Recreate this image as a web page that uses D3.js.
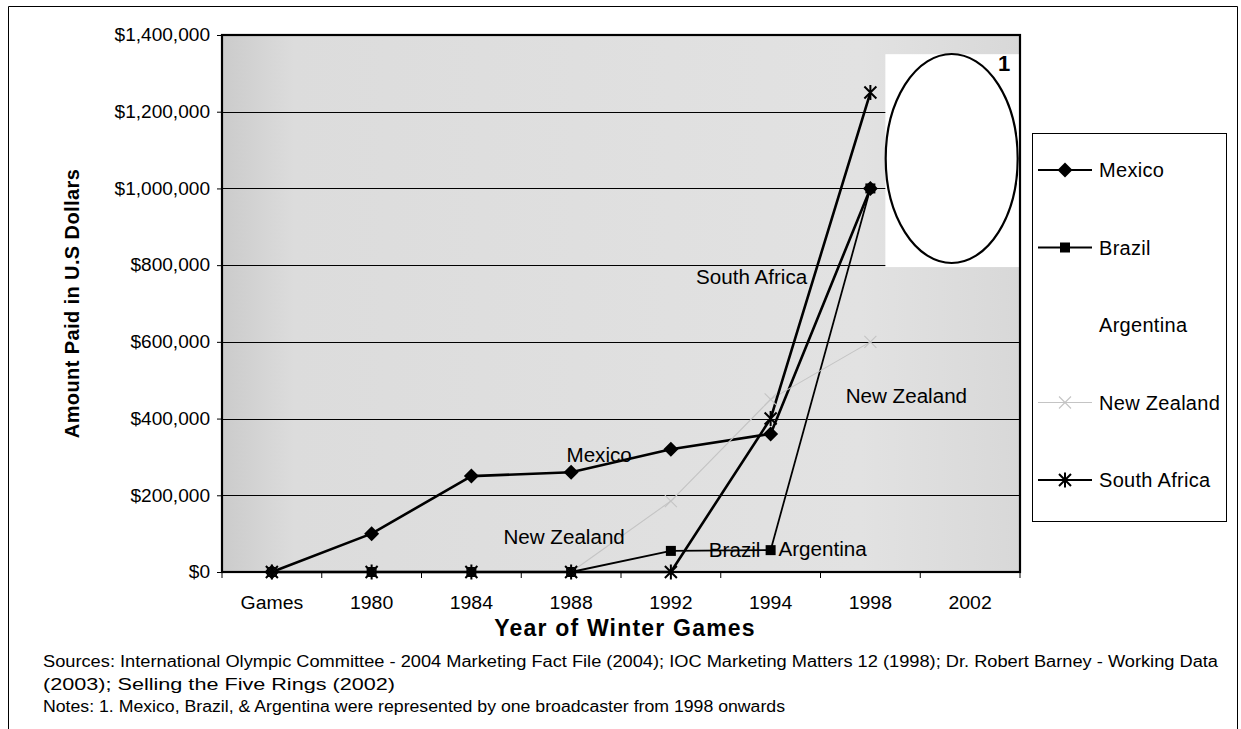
<!DOCTYPE html>
<html>
<head>
<meta charset="utf-8">
<script src="https://cdn.jsdelivr.net/npm/d3@7/dist/d3.min.js"></script>
<style>
  html, body { margin: 0; padding: 0; background: #fff; }
  svg { display: block; font-family: "Liberation Sans", Arial, sans-serif; }
</style>
</head>
<body>
<svg id="chart" width="1241" height="729"></svg>
<script>
// ---------------- data ----------------
const categories = ["Games", "1980", "1984", "1988", "1992", "1994", "1998", "2002"];
const seriesNames = ["Mexico", "Brazil", "Argentina", "New Zealand", "South Africa"];
const mexico      = [0, 100000, 250000, 260000, 320000, 360000, 1000000, null];
const brazil      = [0, 0, 0, 0, 55000, 57000, 1000000, null];
const argentina   = [null, null, null, null, null, 57000, 1000000, null];
const newZealand  = [0, 0, 0, 0, 185000, 450000, 600000, null];
const southAfrica = [0, 0, 0, 0, 0, 400000, 1250000, null];
const yTicks = [0, 200000, 400000, 600000, 800000, 1000000, 1200000, 1400000];

const labelNames = ["South Africa", "New Zealand", "Mexico", "New Zealand", "Brazil", "Argentina"];
const labelCats  = ["1994", "1998", "1988", "1988", "1994", "1994"];
const labelVals  = [770000, 460000, 305000, 92000, 57000, 60000];

const yTitle = "Amount Paid in U.S Dollars";
const xTitle = "Year of Winter Games";
const noteNumber = "1";
const sourceLines = [
  "Sources: International Olympic Committee - 2004 Marketing Fact File (2004); IOC Marketing Matters 12 (1998); Dr. Robert Barney - Working Data",
  "(2003); Selling the Five Rings (2002)",
  "Notes: 1. Mexico, Brazil, & Argentina were represented by one broadcaster from 1998 onwards"
];

// ---------------- setup ----------------
const svg = d3.select("#chart");
const plot = { left: 222, right: 1020, top: 35, bottom: 572 };

const x = d3.scaleBand().domain(categories).range([plot.left, plot.right]).padding(0);
const y = d3.scaleLinear().domain([0, 1400000]).range([plot.bottom, plot.top]);
const cx = c => x(c) + x.bandwidth() / 2;

function stretch(sel, k) {
  sel.each(function () {
    const w = this.getComputedTextLength();
    d3.select(this).attr("textLength", w * k).attr("lengthAdjust", "spacingAndGlyphs");
  });
}

// outer frame
svg.append("path")
  .attr("d", "M8.5,740 L8.5,6.5 L1237.5,6.5 L1237.5,740")
  .attr("fill", "none").attr("stroke", "#000").attr("stroke-width", 1);

// plot background
const defs = svg.append("defs");
const grad = defs.append("linearGradient").attr("id", "bg").attr("x1", "0").attr("x2", "1").attr("y1", "0").attr("y2", "0");
grad.append("stop").attr("offset", "0").attr("stop-color", "#cbcbcb");
grad.append("stop").attr("offset", "0.09").attr("stop-color", "#dcdcdc");
grad.append("stop").attr("offset", "0.8").attr("stop-color", "#e2e2e2");
grad.append("stop").attr("offset", "1").attr("stop-color", "#d8d8d8");

svg.append("rect")
  .attr("x", plot.left).attr("y", plot.top)
  .attr("width", plot.right - plot.left).attr("height", plot.bottom - plot.top)
  .attr("fill", "url(#bg)");

// gridlines
svg.append("g").selectAll("line").data(yTicks.slice(1, -1)).join("line")
  .attr("x1", plot.left).attr("x2", plot.right)
  .attr("y1", d => Math.round(y(d)) + 0.5).attr("y2", d => Math.round(y(d)) + 0.5)
  .attr("stroke", "#000").attr("stroke-width", 1);

// white note box (upper right)
const boxLeft = cx("1998") + 15;
svg.append("rect")
  .attr("x", boxLeft).attr("y", y(1350000))
  .attr("width", plot.right - 1 - boxLeft)
  .attr("height", y(795000) - y(1350000))
  .attr("fill", "#fff");

// y axis
const yAxis = d3.axisLeft(y).tickValues(yTicks).tickSize(5).tickPadding(7)
  .tickFormat(d => "$" + d3.format(",")(d));
const gy = svg.append("g").attr("transform", `translate(${plot.left},0)`).call(yAxis);
gy.select(".domain").remove();
gy.selectAll(".tick line").attr("stroke", "#000");
gy.selectAll(".tick text").attr("font-size", 18).attr("fill", "#000")
  .attr("font-family", "'Liberation Sans', Arial, sans-serif");
stretch(gy.selectAll(".tick text"), 1.06);

// x axis (ticks at category boundaries)
const gx = svg.append("g").attr("transform", `translate(0,${plot.bottom})`);
gx.selectAll("line.bt").data(categories.concat(["__end"])).join("line")
  .attr("class", "bt")
  .attr("x1", (d, i) => i < categories.length ? x(d) : plot.right)
  .attr("x2", (d, i) => i < categories.length ? x(d) : plot.right)
  .attr("y1", 0).attr("y2", 6)
  .attr("stroke", "#000").attr("stroke-width", 1);
const xt = gx.selectAll("text").data(categories).join("text")
  .attr("x", d => cx(d)).attr("y", 37)
  .attr("text-anchor", "middle")
  .attr("font-size", 18).attr("fill", "#000")
  .text(d => d);
stretch(xt, 1.08);

// ---------------- series ----------------
const seriesValues = [mexico, brazil, argentina, newZealand, southAfrica];
const seriesColor = ["#000", "#000", "#fff", "#c4c4c4", "#000"];
const seriesWidth = [2.6, 1.8, 1.5, 1.1, 2.6];
const lineOrder = [2, 1, 0, 3, 4];

const line = d3.line()
  .defined(d => d.v !== null)
  .x(d => cx(d.c)).y(d => y(d.v));

const rows = s => categories.map((c, i) => ({ c, v: seriesValues[s][i] }));

const gLines = svg.append("g");
lineOrder.forEach(s => {
  gLines.append("path")
    .datum(rows(s))
    .attr("d", line)
    .attr("fill", "none")
    .attr("stroke", seriesColor[s])
    .attr("stroke-width", seriesWidth[s])
    .attr("stroke-linejoin", "round");
});

// marker drawing
function drawMarker(g, s, px, py) {
  if (s === 0) { // diamond
    g.append("path").attr("d", `M${px},${py - 7.5} L${px + 7.5},${py} L${px},${py + 7.5} L${px - 7.5},${py} Z`)
      .attr("fill", "#000");
  } else if (s === 1) { // square
    g.append("rect").attr("x", px - 5).attr("y", py - 5).attr("width", 10).attr("height", 10).attr("fill", "#000");
  } else if (s === 3) { // x
    g.append("path").attr("d", `M${px - 6},${py - 6} L${px + 6},${py + 6} M${px - 6},${py + 6} L${px + 6},${py - 6}`)
      .attr("stroke", "#c4c4c4").attr("stroke-width", 1.1).attr("fill", "none");
  } else if (s === 4) { // star
    g.append("path").attr("d", `M${px - 6},${py - 6} L${px + 6},${py + 6} M${px - 6},${py + 6} L${px + 6},${py - 6} M${px},${py - 7.5} L${px},${py + 7.5}`)
      .attr("stroke", "#000").attr("stroke-width", 2).attr("fill", "none");
  }
}

const gMarks = svg.append("g");
[0, 1, 3, 4].forEach(s => {
  rows(s).filter(d => d.v !== null).forEach(d => drawMarker(gMarks, s, cx(d.c), y(d.v)));
});

// plot border (drawn over series)
svg.append("rect")
  .attr("x", plot.left).attr("y", plot.top)
  .attr("width", plot.right - plot.left).attr("height", plot.bottom - plot.top)
  .attr("fill", "none").attr("stroke", "#000").attr("stroke-width", 2.2);

// ellipse + note number
svg.append("ellipse")
  .attr("cx", (boxLeft + plot.right - 2) / 2)
  .attr("cy", y(1078000))
  .attr("rx", 66).attr("ry", 104.5)
  .attr("fill", "#fff").attr("stroke", "#000").attr("stroke-width", 2.2);
svg.append("text")
  .attr("x", cx("2002") + 34).attr("y", y(1305000))
  .attr("text-anchor", "middle").attr("font-size", 22).attr("font-weight", "bold")
  .text(noteNumber);

// data labels
const labelDx = [-19, 36, 28, -7, -36, 52];
const dl = svg.append("g").selectAll("text").data(labelNames).join("text")
  .attr("x", (d, i) => cx(labelCats[i]) + labelDx[i])
  .attr("y", (d, i) => y(labelVals[i]))
  .attr("dy", "0.36em")
  .attr("text-anchor", "middle")
  .attr("font-size", 20).attr("fill", "#000")
  .text(d => d);
stretch(dl, 1.03);

// axis titles
svg.append("text")
  .attr("transform", `translate(79,${(plot.top + plot.bottom) / 2}) rotate(-90)`)
  .attr("text-anchor", "middle").attr("font-size", 20).attr("font-weight", "bold")
  .attr("letter-spacing", 0.4)
  .text(yTitle);
svg.append("text")
  .attr("x", (plot.left + plot.right) / 2 + 4).attr("y", 636)
  .attr("text-anchor", "middle").attr("font-size", 23).attr("font-weight", "bold")
  .attr("letter-spacing", 1.2)
  .text(xTitle);

// ---------------- legend ----------------
const lg = svg.append("g");
lg.append("rect").attr("x", 1032.5).attr("y", 133.5).attr("width", 194).attr("height", 388)
  .attr("fill", "#fff").attr("stroke", "#000").attr("stroke-width", 1);
seriesNames.forEach((name, s) => {
  const ly = 170 + s * 77.5;
  lg.append("line").attr("x1", 1038).attr("x2", 1092).attr("y1", ly).attr("y2", ly)
    .attr("stroke", seriesColor[s]).attr("stroke-width", s === 3 ? 1.1 : 1.8);
  drawMarker(lg, s, 1065, ly);
  lg.append("text").attr("x", 1099).attr("y", ly).attr("dy", "0.36em")
    .attr("font-size", 20).attr("letter-spacing", 0.3).attr("fill", "#000").text(name);
});

// ---------------- footnotes ----------------
const fnWidths = [1175, 352, 742];
svg.append("g").selectAll("text").data(sourceLines).join("text")
  .attr("x", 43).attr("y", (d, i) => 667 + i * 22.5)
  .attr("font-size", 16).attr("fill", "#000")
  .attr("textLength", (d, i) => fnWidths[i]).attr("lengthAdjust", "spacingAndGlyphs")
  .text(d => d);
</script>
</body>
</html>
